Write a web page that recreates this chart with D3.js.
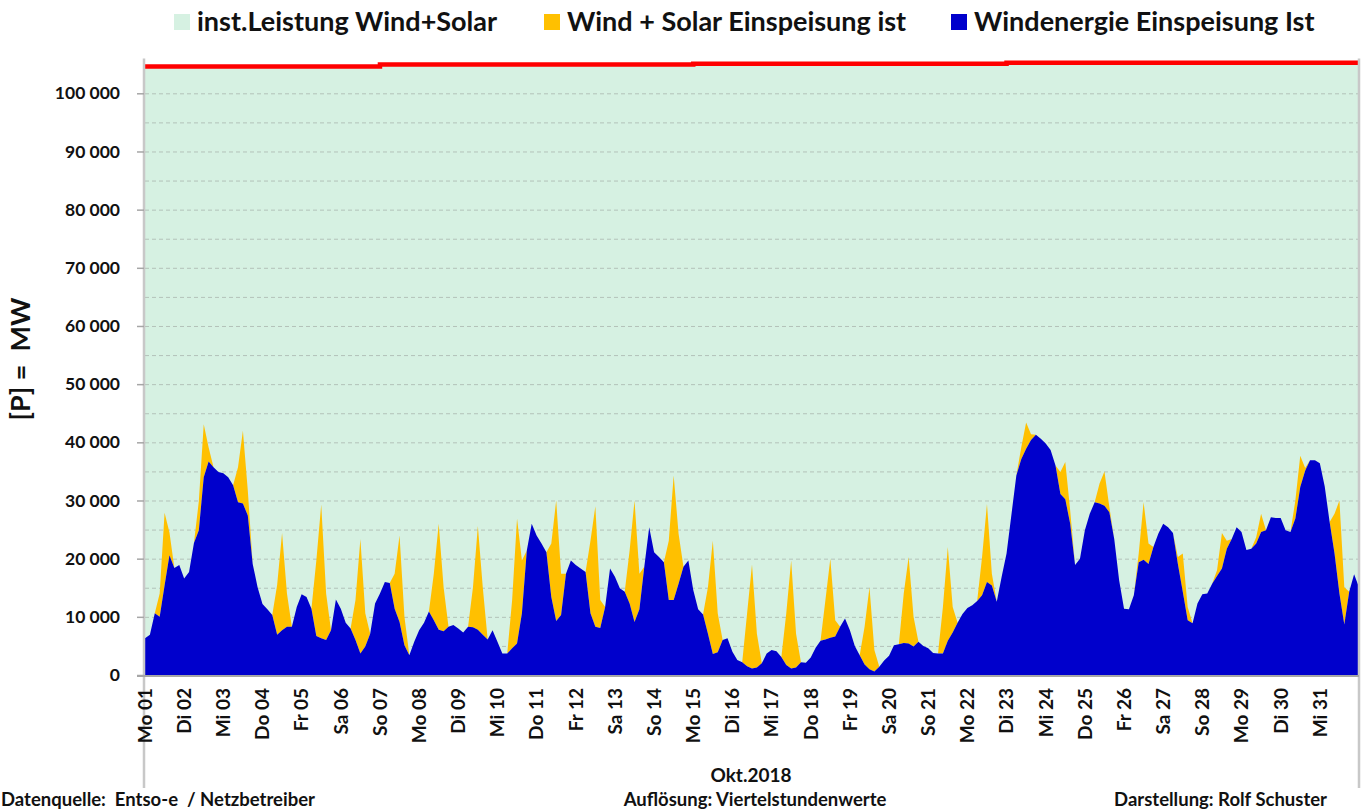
<!DOCTYPE html>
<html>
<head>
<meta charset="utf-8">
<script src="https://cdn.jsdelivr.net/npm/d3@7"></script>
<style>
  body { margin: 0; background: #fff; }
  svg { display: block; font-family: Lato, "Open Sans", sans-serif; font-weight: bold; }
  text { white-space: pre; }
</style>
</head>
<body>
<svg></svg>
<script>
/*
*  DATA
*/

let dayLabels = ['Mo 01','Di 02','Mi 03','Do 04','Fr 05','Sa 06','So 07','Mo 08','Di 09','Mi 10',
  'Do 11','Fr 12','Sa 13','So 14','Mo 15','Di 16','Mi 17','Do 18','Fr 19','Sa 20','So 21',
  'Mo 22','Di 23','Mi 24','Do 25','Fr 26','Sa 27','So 28','Mo 29','Di 30','Mi 31']

// wind feed-in in 1000 MW, one row per day, values at 00 03 06 09 12 15 18 21 h
let windGW = [
  6.3, 6.9, 10.6, 10.0, 15.4, 20.6, 18.4, 18.9,
  16.6, 17.7, 22.7, 24.9, 34.0, 36.7, 35.7, 34.9,
  34.7, 34.0, 32.6, 29.7, 29.5, 27.4, 19.1, 15.1,
  12.2, 11.3, 10.3, 6.9, 7.7, 8.3, 8.3, 11.7,
  13.9, 13.4, 11.4, 6.7, 6.3, 6.0, 7.7, 13.0,
  11.4, 9.0, 8.0, 6.0, 3.7, 4.9, 7.1, 12.3,
  14.0, 16.0, 15.8, 11.4, 9.1, 5.1, 3.4, 5.7,
  7.7, 9.0, 10.9, 9.4, 7.8, 7.5, 8.3, 8.6,
  8.0, 7.3, 8.3, 8.2, 7.8, 6.9, 6.1, 7.7,
  5.7, 3.7, 3.7, 4.6, 5.4, 10.6, 21.4, 26.0,
  24.0, 22.6, 21.1, 13.4, 9.3, 10.3, 17.4, 19.7,
  18.9, 18.3, 17.7, 10.6, 8.3, 8.1, 11.7, 18.3,
  16.9, 14.9, 14.3, 12.3, 9.1, 11.3, 18.6, 25.4,
  21.1, 20.3, 19.4, 12.9, 12.9, 15.7, 18.6, 19.7,
  14.6, 11.3, 10.4, 7.1, 3.6, 3.9, 6.0, 6.3,
  4.0, 2.6, 2.2, 1.5, 1.1, 1.3, 2.0, 3.7,
  4.3, 4.1, 3.1, 1.7, 1.1, 1.3, 2.2, 2.1,
  3.0, 4.7, 5.9, 6.1, 6.4, 6.6, 8.3, 9.7,
  7.7, 5.0, 3.4, 1.8, 1.0, 0.6, 1.4, 2.5,
  3.3, 5.1, 5.3, 5.5, 5.4, 4.9, 5.7, 5.0,
  4.6, 3.8, 3.7, 3.7, 5.9, 7.3, 9.0, 10.5,
  11.5, 12.0, 12.7, 13.7, 16.0, 15.4, 12.6, 16.9,
  20.9, 27.6, 34.3, 37.1, 38.9, 40.4, 41.3, 40.6,
  39.8, 38.7, 36.0, 31.1, 30.2, 26.0, 18.9, 20.0,
  24.9, 27.7, 29.7, 29.5, 29.1, 28.0, 23.4, 16.3,
  11.4, 11.3, 13.7, 19.4, 19.8, 19.1, 22.0, 24.3,
  26.0, 25.4, 24.4, 19.1, 14.3, 9.4, 8.9, 12.3,
  13.9, 14.0, 15.7, 17.0, 18.3, 21.7, 23.4, 25.4,
  24.6, 21.5, 21.7, 22.6, 24.6, 24.9, 27.1, 27.0,
  27.0, 24.9, 24.6, 26.9, 32.3, 35.1, 36.9, 36.9,
  36.4, 32.4, 26.3, 20.9, 14.0, 8.7, 14.3, 17.3,
  15.1
]

// solar feed-in in 1000 MW at 09, 12 and 15 h (zero at night)
let solarGW = [
  [4.0, 12.5, 3.9], [5.0, 9.1, 2.4], [6.0, 12.5, 4.3], [8.6, 16.7, 5.7], [13.0, 23.0, 8.0],
  [6.9, 19.7, 5.7], [6.0, 14.9, 4.9], [8.0, 18.2, 7.6], [6.9, 17.8, 8.2], [8.3, 21.5, 9.1],
  [9.2, 20.7, 7.1], [12.5, 20.7, 4.8], [9.1, 20.9, 6.1], [10.2, 21.4, 8.6], [8.0, 19.5, 6.7],
  [9.1, 17.9, 5.8], [8.9, 18.6, 5.8], [6.8, 13.6, 2.8], [6.5, 14.1, 3.7], [8.5, 14.9, 5.1],
  [8.0, 16.1, 4.4], [6.6, 13.4, 2.0], [2.0, 4.5, 1.0], [3.8, 6.4, 2.3], [3.4, 5.9, 0.9],
  [1.5, 9.9, 3.5], [1.2, 6.6, 2.3], [1.0, 6.1, 1.4], [1.1, 3.1, 0.0], [3.1, 5.4, 0.5],
  [6.8, 16.0, 6.4]
]

// installed capacity wind+solar, MW, valid from day
let capStartDay = [0, 6, 14, 22]
let capMW = [104600, 104950, 105100, 105250]

let yTicks = d3.range(0, 100001, 10000)
let gridTicks = d3.range(5000, 100001, 5000)

let legendLabels = ['inst.Leistung Wind+Solar', 'Wind + Solar Einspeisung ist', 'Windenergie Einspeisung Ist']
let legendColors = ['#d6f1e2', '#ffc000', '#0000cc']


/*
*  RUN
*/

let width = 1364,
    height = 811,
    plotLeft = 145, plotRight = 1359, plotTop = 58.4, plotBottom = 675

let svg = d3.select('svg').attr('width', width).attr('height', height)

let x = d3.scaleLinear().domain([0, 31]).range([plotLeft, plotRight])
let y = d3.scaleLinear().domain([0, 106000]).range([plotBottom, plotTop])

let rows = buildRows()
drawChart(rows)
drawAxes()
drawLegend()
drawNotes()


/*
*  HELPERS
*/

function buildRows(){
  return windGW.map((w, i) => {
    let day = Math.floor(i / 8), hour = (i % 8) * 3
    let s = 0
    if(day < 31 && hour >= 9 && hour <= 15) s = solarGW[day][(hour - 9) / 3]
    return { t: i / 8, wind: w * 1000, solar: s * 1000 }
  })
}

function drawChart(rows){
  let cap = capStartDay.map((d, i) => ({ t: d, v: capMW[i] }))
  cap.push({ t: 31, v: capMW[capMW.length - 1] })

  svg.append('path')
    .datum(cap)
    .attr('fill', legendColors[0])
    .attr('d', d3.area().curve(d3.curveStepAfter).x(d => x(d.t)).y0(y(0)).y1(d => y(d.v)))

  svg.append('g').selectAll('line')
    .data(gridTicks)
    .join('line')
    .attr('x1', plotLeft).attr('x2', plotRight)
    .attr('y1', d => y(d) + 0.5).attr('y2', d => y(d) + 0.5)
    .attr('stroke', '#b3c2b9')
    .attr('stroke-dasharray', '4,3')

  let stack = d3.stack().keys(['wind', 'solar'])(rows)
  let area = d3.area().x(d => x(d.data.t)).y0(d => y(d[0])).y1(d => y(d[1]))

  svg.append('path').datum(stack[1]).attr('fill', legendColors[1]).attr('d', area)
  svg.append('path').datum(stack[0]).attr('fill', legendColors[2]).attr('d', area)

  svg.append('path')
    .datum(cap)
    .attr('fill', 'none')
    .attr('stroke', '#ff0000')
    .attr('stroke-width', 4.5)
    .attr('d', d3.line().curve(d3.curveStepAfter).x(d => x(d.t)).y(d => y(d.v)))
}

function drawAxes(){
  let fmt = d3.formatLocale({ decimal: ',', thousands: ' ', grouping: [3], currency: ['', ''] }).format(',d')

  // frame lines left and right reaching down to the footer
  svg.append('g').selectAll('line')
    .data([plotLeft - 1, plotRight])
    .join('line')
    .attr('x1', d => d).attr('x2', d => d)
    .attr('y1', plotTop).attr('y2', 788)
    .attr('stroke', '#c8c8c8')
    .attr('stroke-width', 2.5)

  let ya = svg.append('g')
    .attr('transform', `translate(${plotLeft - 1},0)`)
    .call(d3.axisLeft(y).tickValues(yTicks).tickSize(7).tickPadding(17).tickFormat(fmt))
  ya.select('.domain').remove()
  ya.selectAll('line').attr('stroke', '#a6a6a6').attr('stroke-width', 1.5)
  ya.selectAll('text').attr('font-size', 17.5).attr('font-family', 'Lato').attr('font-weight', 'bold').attr('fill', '#111')

  svg.append('line')
    .attr('x1', plotLeft - 8).attr('x2', plotRight)
    .attr('y1', plotBottom + 1).attr('y2', plotBottom + 1)
    .attr('stroke', '#a6a6a6').attr('stroke-width', 2)

  svg.append('g').selectAll('text')
    .data(dayLabels)
    .join('text')
    .attr('transform', (d, i) => `translate(${x(i)},688) rotate(-90)`)
    .attr('text-anchor', 'end')
    .attr('dy', '0.36em')
    .attr('font-size', 19)
    .attr('fill', '#111')
    .text(d => d)

  svg.append('text')
    .attr('transform', 'translate(30,359) rotate(-90)')
    .attr('text-anchor', 'middle')
    .attr('font-size', 27)
    .attr('fill', '#111')
    .text('[P] =  MW')
}

function drawLegend(){
  let boxX = [174, 544, 951]
  let l = svg.append('g').attr('class', 'legend')
  l.selectAll('rect')
    .data(legendLabels)
    .join('rect')
    .attr('x', (d, i) => boxX[i]).attr('y', 14)
    .attr('width', 16).attr('height', 16)
    .attr('fill', (d, i) => legendColors[i])
  l.selectAll('text')
    .data(legendLabels)
    .join('text')
    .attr('x', (d, i) => boxX[i] + 23).attr('y', 31)
    .attr('font-size', 27)
    .attr('fill', '#111')
    .text(d => d)
}

function drawNotes(){
  let notes = [
    { t: 'Okt.2018', x: 751, y: 782, a: 'middle', s: 19 },
    { t: 'Auflösung: Viertelstundenwerte', x: 755, y: 806, a: 'middle', s: 18.5 },
    { t: 'Datenquelle:  Entso-e  / Netzbetreiber', x: 1, y: 806, a: 'start', s: 18.5 },
    { t: 'Darstellung: Rolf Schuster', x: 1327, y: 806, a: 'end', s: 18.5 }
  ]
  svg.append('g').selectAll('text')
    .data(notes)
    .join('text')
    .attr('x', d => d.x).attr('y', d => d.y)
    .attr('text-anchor', d => d.a)
    .attr('font-size', d => d.s)
    .attr('fill', '#111')
    .text(d => d.t)
}
</script>
</body>
</html>
